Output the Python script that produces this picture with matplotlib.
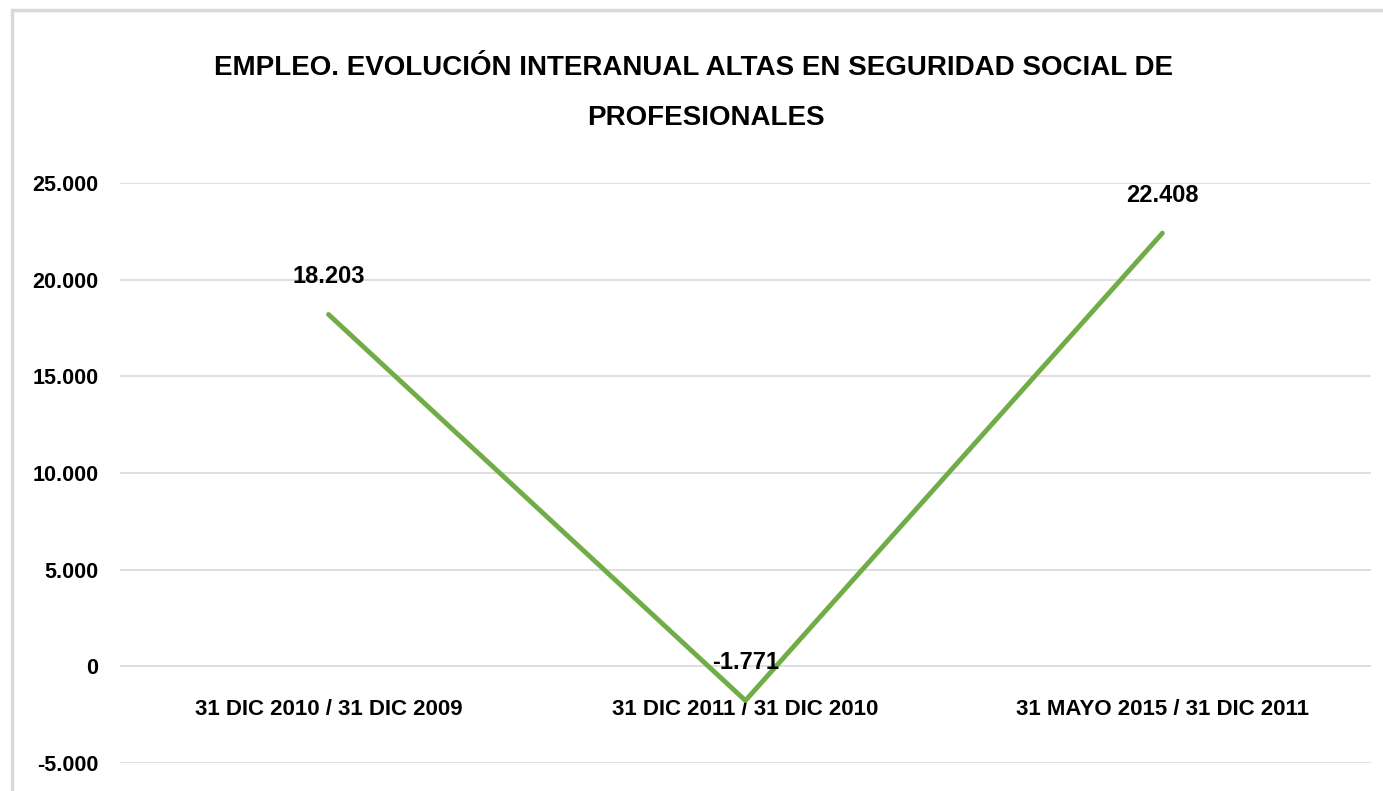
import matplotlib.pyplot as plt
from matplotlib.patches import Rectangle
from matplotlib.ticker import FuncFormatter

# datos
periodos = ["31 DIC 2010 / 31 DIC 2009", "31 DIC 2011 / 31 DIC 2010", "31 MAYO 2015 / 31 DIC 2011"]
altas = [18203, -1771, 22408]
titulo_1 = "EMPLEO. EVOLUCIÓN INTERANUAL ALTAS EN SEGURIDAD SOCIAL DE"
titulo_2 = "PROFESIONALES"

plt.rcParams['font.family'] = ['Liberation Sans', 'DejaVu Sans']
plt.rcParams['font.weight'] = 'bold'

def miles(v, pos=None):
    s = f"{abs(int(round(v))):,}".replace(",", ".")
    return ("-" if v < 0 else "") + s

W, H = 1383, 791
fig = plt.figure(figsize=(W / 100, H / 100), dpi=100)
ax = fig.add_axes([0.0868, 0.0354, 0.9044, 0.7332])

x = range(len(altas))
ax.plot(x, altas, color="#70AD47", lw=3.5, solid_capstyle="round")

for xi, v in zip(x, altas):
    ax.annotate(miles(v), (xi, v), xytext=(0, 19), textcoords="offset points",
                ha="center", va="bottom", fontsize=17, fontweight="bold")

ax.set_xlim(-0.5, 2.5)
ax.set_ylim(-5000, 25000)
ax.set_yticks(range(-5000, 25001, 5000))
ax.yaxis.set_major_formatter(FuncFormatter(miles))
ax.grid(axis="y", color="#d9d9d9", lw=1.2)
ax.set_axisbelow(True)

ax.set_xticks(list(x))
ax.set_xticklabels(periodos)
ax.spines["bottom"].set_position(("data", 0))
for s in ax.spines.values():
    s.set_visible(False)
ax.tick_params(axis="x", length=0, pad=23.5, labelsize=16)
ax.tick_params(axis="y", length=0, pad=15.5, labelsize=15.5)

fig.text(693 / W, 1 - 68 / H, titulo_1, ha="center", va="center", fontsize=20, fontweight="bold")
fig.text(706 / W, 1 - 118 / H, titulo_2, ha="center", va="center", fontsize=20, fontweight="bold")

# borde del gráfico
fig.patches.append(Rectangle((12 / W, -0.02), 1.02, 1 - 10 / H + 0.02,
                             transform=fig.transFigure, fill=False,
                             edgecolor="#d9d9d9", lw=2.5))

fig.savefig("out.png", dpi=100)
